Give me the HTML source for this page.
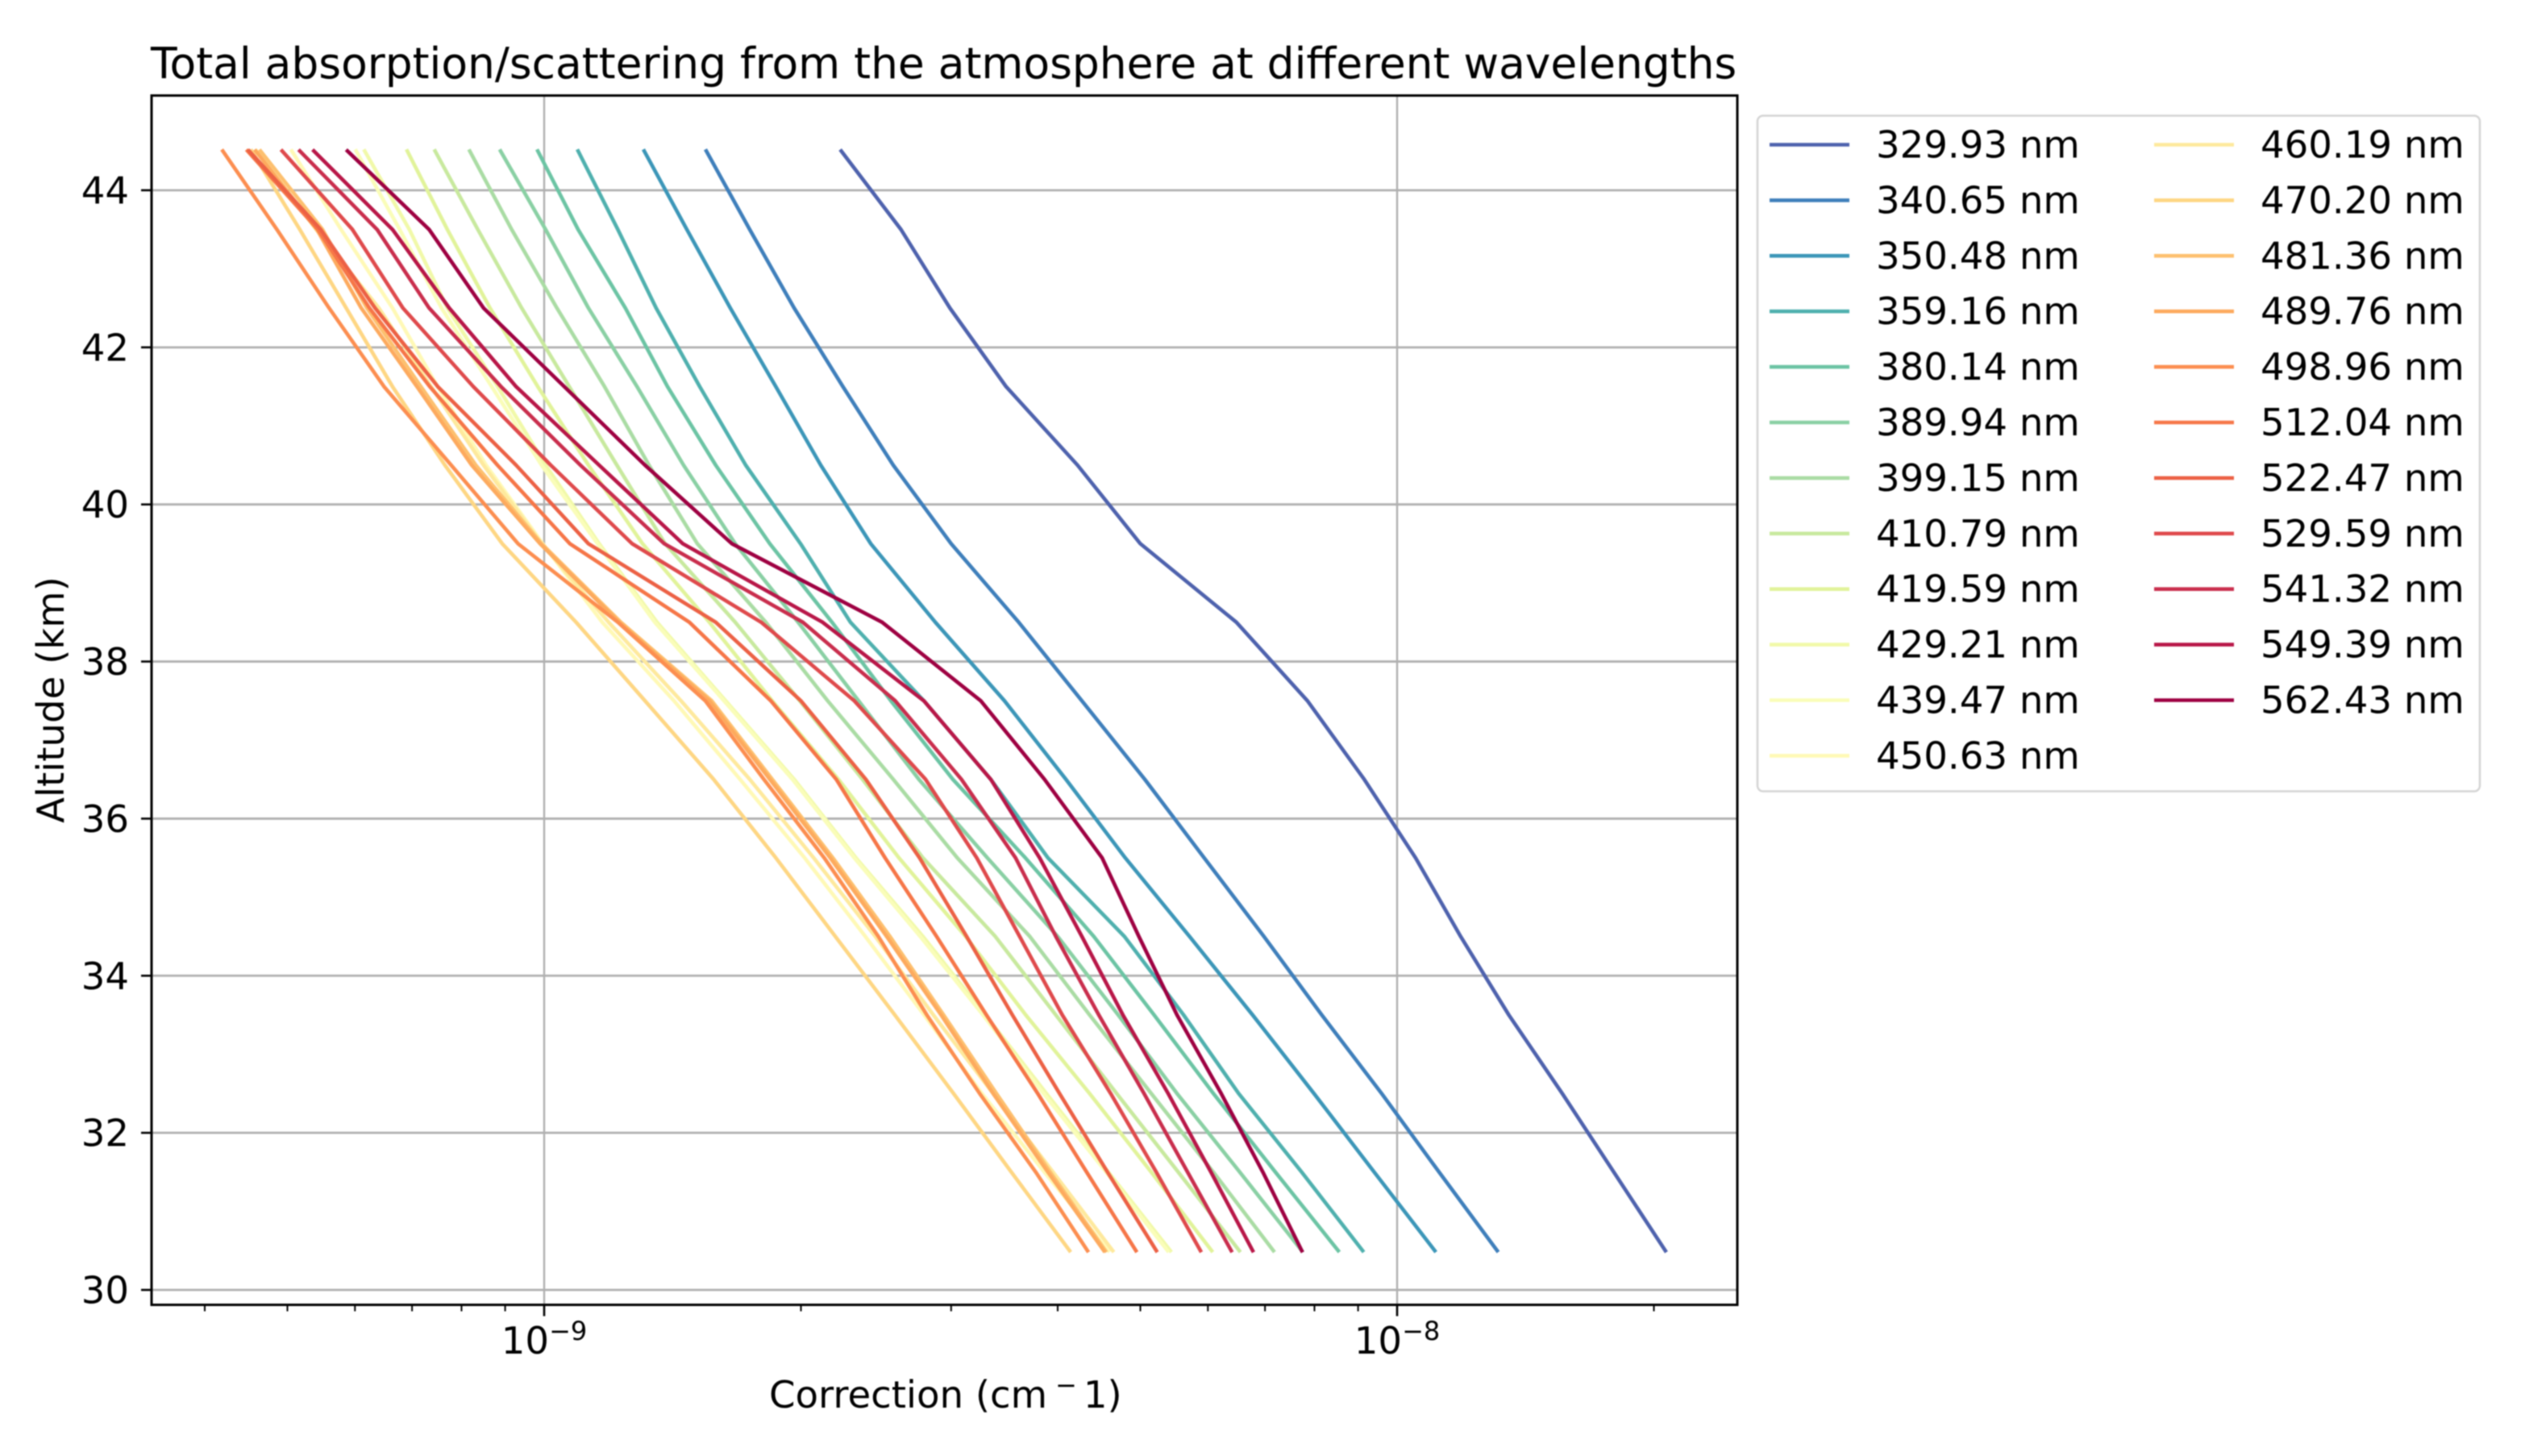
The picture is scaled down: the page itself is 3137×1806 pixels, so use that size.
<!DOCTYPE html>
<html lang="en">
<head>
<meta charset="utf-8">
<title>Total absorption/scattering from the atmosphere at different wavelengths</title>
<style>
html,body{margin:0;padding:0;background:#fff;width:3137px;height:1806px;overflow:hidden}
svg{display:block;filter:blur(0.7px)}
text{font-family:"DejaVu Sans","Liberation Sans",sans-serif;fill:#000}
</style>
</head>
<body>
<svg id="chart" xmlns="http://www.w3.org/2000/svg" width="3137" height="1806" viewBox="0 0 3137 1806">
  <rect x="0" y="0" width="3137" height="1806" fill="#fff"/>
  <text id="title" x="187" y="97" font-size="53.4">Total absorption/scattering from the atmosphere at different wavelengths</text>
  <text x="954" y="1746" font-size="46.6">Correction (cm<tspan dx="10" dy="-17" font-size="32">−</tspan><tspan dx="8" dy="17">1)</tspan></text>
  <text x="0" y="0" font-size="46.6" text-anchor="middle" transform="translate(79 868) rotate(-90)">Altitude (km)</text>
  <g id="grid"></g>
  <g id="series"></g>
  <g id="ticks"></g>
  <rect x="188" y="118.5" width="1967" height="1500" fill="none" stroke="#000" stroke-width="3"/>
  <g id="legend"></g>
</svg>
<script>
// Values. Correction is in units of 1e-9 cm^-1.
const altitudes = [44.5, 43.5, 42.5, 41.5, 40.5, 39.5, 38.5, 37.5, 36.5, 35.5, 34.5, 33.5, 32.5, 31.5, 30.5];
const wavelengths = ['329.93', '340.65', '350.48', '359.16', '380.14', '389.94', '399.15', '410.79', '419.59', '429.21', '439.47', '450.63', '460.19', '470.20', '481.36', '489.76', '498.96', '512.04', '522.47', '529.59', '541.32', '549.39', '562.43'];

const s329 = [2.23, 2.62, 2.99, 3.48, 4.22, 5.00, 6.48, 7.85, 9.15, 10.51, 11.87, 13.52, 15.62, 17.95, 20.63];
const s340 = [1.549, 1.742, 1.964, 2.24, 2.566, 3.00, 3.60, 4.27, 5.06, 5.94, 6.98, 8.16, 9.59, 11.2, 13.1];
const s350 = [1.310, 1.470, 1.653, 1.869, 2.11, 2.415, 2.875, 3.465, 4.09, 4.80, 5.71, 6.77, 7.99, 9.40, 11.07];
const s359 = [1.096, 1.22, 1.353, 1.522, 1.723, 1.998, 2.286, 2.787, 3.339, 3.896, 4.79, 5.62, 6.52, 7.73, 9.11];
const s380 = [0.983, 1.096, 1.245, 1.395, 1.589, 1.839, 2.175, 2.55, 3.014, 3.666, 4.41, 5.19, 6.09, 7.20, 8.53];
const s389 = [0.889, 1.004, 1.127, 1.285, 1.457, 1.675, 1.985, 2.337, 2.75, 3.309, 4.00, 4.71, 5.52, 6.54, 7.73];
const s399 = [0.818, 0.916, 1.035, 1.177, 1.327, 1.512, 1.819, 2.15, 2.566, 3.05, 3.71, 4.36, 5.15, 6.09, 7.16];
const s410 = [0.745, 0.836, 0.941, 1.07, 1.217, 1.386, 1.675, 1.994, 2.362, 2.78, 3.38, 3.98, 4.69, 5.54, 6.53];
const s419 = [0.691, 0.770, 0.864, 0.983, 1.127, 1.304, 1.562, 1.851, 2.213, 2.606, 3.12, 3.67, 4.36, 5.15, 6.06];
const s429 = [0.616, 0.695, 0.77, 0.882, 1.004, 1.16, 1.356, 1.632, 1.964, 2.32, 2.78, 3.29, 3.88, 4.586, 5.42];
const s439 = [0.602, 0.677, 0.758, 0.868, 0.993, 1.155, 1.348, 1.625, 1.955, 2.31, 2.76, 3.27, 3.85, 4.56, 5.38];
const s450 = [0.506, 0.578, 0.664, 0.75, 0.855, 0.996, 1.17, 1.42, 1.697, 2.02, 2.38, 2.79, 3.26, 3.86, 4.586];
const s460 = [0.46, 0.5404, 0.64, 0.737, 0.849, 0.993, 1.19, 1.447, 1.742, 2.07, 2.445, 2.86, 3.36, 3.95, 4.64];
const s470 = [0.454, 0.517, 0.586, 0.664, 0.765, 0.893, 1.09, 1.313, 1.58, 1.869, 2.195, 2.577, 3.02, 3.53, 4.13];
const s481 = [0.465, 0.5497, 0.6197, 0.717, 0.8314, 0.993, 1.23, 1.572, 1.851, 2.18, 2.543, 2.94, 3.39, 3.92, 4.55];
const s489 = [0.459, 0.5416, 0.6103, 0.7093, 0.8224, 0.989, 1.224, 1.562, 1.839, 2.165, 2.521, 2.92, 3.36, 3.896, 4.53];
const s498 = [0.42, 0.486, 0.5595, 0.649, 0.778, 0.932, 1.22, 1.545, 1.81, 2.13, 2.465, 2.81, 3.24, 3.77, 4.335];
const s512 = [0.449, 0.543, 0.624, 0.7344, 0.8817, 1.072, 1.48, 1.844, 2.2, 2.51, 2.885, 3.30, 3.79, 4.325, 4.94];
const s522 = [0.451, 0.547, 0.6334, 0.7505, 0.927, 1.127, 1.589, 2.0, 2.383, 2.755, 3.128, 3.54, 4.02, 4.576, 5.22];
const s529 = [0.493, 0.596, 0.683, 0.826, 1.018, 1.268, 1.796, 2.31, 2.80, 3.215, 3.61, 4.05, 4.615, 5.22, 5.88];
const s541 = [0.517, 0.637, 0.733, 0.89, 1.103, 1.383, 2.01, 2.58, 3.085, 3.57, 3.98, 4.47, 5.05, 5.68, 6.39];
const s549 = [0.537, 0.664, 0.774, 0.927, 1.16, 1.454, 2.12, 2.787, 3.339, 3.81, 4.27, 4.77, 5.39, 6.05, 6.77];
const s562 = [0.588, 0.733, 0.849, 1.056, 1.313, 1.66, 2.49, 3.25, 3.86, 4.51, 4.98, 5.52, 6.22, 6.96, 7.73];
const seriesValues = [s329, s340, s350, s359, s380, s389, s399, s410, s419, s429, s439, s450, s460, s470, s481, s489, s498, s512, s522, s529, s541, s549, s562];

const yTickValues = [30, 32, 34, 36, 38, 40, 42, 44];
const xMajorExponents = [-9, -8];
const xMinorValues = [0.4, 0.5, 0.6, 0.7, 0.8, 0.9, 2, 3, 4, 5, 6, 7, 8, 9, 20];

const lineColors = ['#4e62ad', '#3f7fbb', '#3c96b8', '#4fb0ae', '#6cc4a4', '#8ad0a4', '#aadca4', '#c8e99e', '#e1f39a', '#f1f9a9', '#fafdb9', '#fff9b6', '#fee99d', '#fed683', '#fdc06f', '#fdaa5e', '#fc8e50', '#f67648', '#ec6145', '#df4a4c', '#c92e4d', '#b81748', '#9e0142'];

const NS = 'http://www.w3.org/2000/svg';
const plotLeft = 188, plotBottom = 1618.5;

function xScale(v) { return 675 + 1058 * Math.log10(v); }
function yScale(km) { return 1600 - (km - 30) * 97.43; }
function xScaleExp(e) { return xScale(Math.pow(10, e + 9)); }

function make(tag, parent) {
  const el = document.createElementNS(NS, tag);
  parent.appendChild(el);
  return el;
}
function setLine(el, x1, y1, x2, y2, stroke, width) {
  el.setAttribute('x1', x1);
  el.setAttribute('y1', y1);
  el.setAttribute('x2', x2);
  el.setAttribute('y2', y2);
  el.setAttribute('stroke', stroke);
  el.setAttribute('stroke-width', width);
}

const gridG = document.getElementById('grid');
const seriesG = document.getElementById('series');
const ticksG = document.getElementById('ticks');
const legendG = document.getElementById('legend');

// Horizontal grid, y ticks and y labels
yTickValues.forEach(function (km) {
  const y = yScale(km);
  const g = make('line', gridG);
  setLine(g, plotLeft, y, 2155, y, '#b0b0b0', 2.8);
  
  
  const t = make('line', ticksG);
  setLine(t, 175, y, plotLeft, y, '#000', 2.6);
  
  
  const label = make('text', ticksG);
  label.setAttribute('x', 160);
  label.setAttribute('y', y + 16.5);
  label.setAttribute('font-size', 46.6);
  label.setAttribute('text-anchor', 'end');
  label.textContent = String(km);
  
  
});

// Vertical grid, major x ticks and x labels
xMajorExponents.forEach(function (e) {
  const x = xScaleExp(e);
  const g = make('line', gridG);
  setLine(g, x, 118.5, x, plotBottom, '#b0b0b0', 2.4);
  
  
  const t = make('line', ticksG);
  setLine(t, x, plotBottom, x, plotBottom + 14, '#000', 2.6);
  
  
  const label = make('text', ticksG);
  label.setAttribute('x', x);
  label.setAttribute('y', 1679);
  label.setAttribute('font-size', 46.6);
  label.setAttribute('text-anchor', 'middle');
  
  
  label.appendChild(document.createTextNode('10'));
  const sup = make('tspan', label);
  sup.setAttribute('dy', -17);
  sup.setAttribute('font-size', 32);
  sup.textContent = '\u2212' + Math.abs(e);
});

// Minor x ticks
xMinorValues.forEach(function (v) {
  const x = xScale(v);
  const t = make('line', ticksG);
  setLine(t, x, plotBottom, x, plotBottom + 8, '#000', 2);
  
  
});

// Series lines
seriesValues.forEach(function (vals, i) {
  const p = make('polyline', seriesG);
  const pts = vals.map(function (v, k) {
    return xScale(v).toFixed(1) + ',' + yScale(altitudes[k]).toFixed(1);
  }).join(' ');
  p.setAttribute('points', pts);
  p.setAttribute('fill', 'none');
  p.setAttribute('stroke', lineColors[i]);
  p.setAttribute('stroke-width', 4.6);
  p.setAttribute('stroke-linecap', 'square');
  p.setAttribute('stroke-linejoin', 'round');
  
  
});

// Legend
const box = make('rect', legendG);
box.setAttribute('x', 2180);
box.setAttribute('y', 143.5);
box.setAttribute('width', 896);
box.setAttribute('height', 838);
box.setAttribute('rx', 7);
box.setAttribute('fill', '#fff');
box.setAttribute('stroke', '#d4d4d4');
box.setAttribute('stroke-width', 2.5);



wavelengths.forEach(function (w, i) {
  const col = i < 12 ? 0 : 1;
  const row = col === 0 ? i : i - 12;
  const y = 179.5 + 68.9 * row;
  const hx = col === 0 ? 2195 : 2672;
  const tx = col === 0 ? 2327 : 2804;
  const h = make('line', legendG);
  setLine(h, hx, y, hx + 99, y, lineColors[i], 4.6);
  
  
  const label = make('text', legendG);
  label.setAttribute('x', tx);
  label.setAttribute('y', y + 16);
  label.setAttribute('font-size', 46.6);
  label.textContent = w + ' nm';
  
  
});
</script>
</body>
</html>
